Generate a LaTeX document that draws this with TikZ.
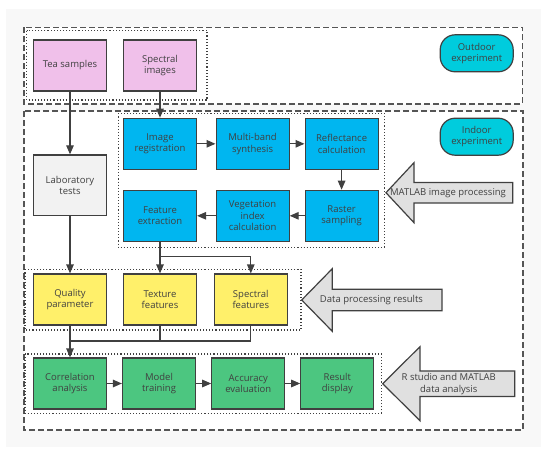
\documentclass[tikz,border=0pt]{standalone}
\usepackage{fontspec}
\setmainfont{Open Sans}
\usetikzlibrary{arrows.meta}
\definecolor{ink}{HTML}{404040}
\definecolor{frame}{HTML}{555555}
\definecolor{page}{HTML}{F8F8F8}
\definecolor{pinkfill}{HTML}{F0C0EA}
\definecolor{bluefill}{HTML}{00B6F0}
\definecolor{cyanfill}{HTML}{00CCDD}
\definecolor{yellowfill}{HTML}{FFF06A}
\definecolor{greenfill}{HTML}{4CC680}
\definecolor{labfill}{HTML}{F2F2F2}
\definecolor{pointerfill}{HTML}{E0E0E0}
\begin{document}
\begin{tikzpicture}[x=1pt,y=-1pt,
  every node/.style={font=\fontsize{9.5}{11.5}\selectfont,text=ink,align=center},
  box/.style={draw=ink,line width=1.2pt,minimum width=73pt,minimum height=51pt,inner sep=1pt},
  tag/.style={draw=ink,line width=1.2pt,fill=cyanfill,rounded corners=15pt,minimum width=73pt,minimum height=37pt},
  stage/.style={draw=frame,line width=1.3pt,dash pattern=on 6pt off 3pt,fill=white},
  group/.style={draw=ink,line width=1.1pt,dash pattern=on 1.1pt off 2pt},
  arr/.style={draw=ink,line width=1.2pt,-{Triangle[length=9pt,width=7.5pt]}},
  link/.style={draw=ink,line width=1.2pt},
  pointer/.style={draw=ink,line width=1.2pt,fill=pointerfill,line join=miter}]
\newcommand{\Pointer}[5]{
\draw[pointer](#1)--++(#2,-#3)--++(0,{#3-#4})--++({#5-#2},0)--++(0,{2*#4})--++({#2-#5},0)--++(0,{#3-#4})--cycle;}
\useasboundingbox(0,0)rectangle(550,455);
\fill[page](6,9)rectangle(541,447);
\draw[stage](24,27.3)rectangle(522.7,104);
\draw[stage](24,111)rectangle(523,430);
\draw[group](26.7,30.7)rectangle(207,100);
\draw[group](118.3,113.3)rectangle(384.3,247.3);
\draw[group](25,269.3)rectangle(301,330);
\draw[group](25,354)rectangle(381.3,413.3);
\node[tag](outdoor) at(476.7,53.3){Outdoor\\experiment};
\node[tag](indoor) at(476.7,136.7){Indoor\\experiment};
\node[box,fill=pinkfill](tea) at(70,65.5){Tea samples};
\node[box,fill=pinkfill](spec) at(160,65.5){Spectral\\images};
\node[box,fill=labfill,minimum height=60.7pt](lab) at(70,185.3){Laboratory\\tests};
\node[box,fill=bluefill](reg) at(160,143.8){Image\\registration};
\node[box,fill=bluefill](band) at(252.6,143.8){Multi-band\\synthesis};
\node[box,fill=bluefill](refl) at(341.6,143.8){Reflectance\\calculation};
\node[box,fill=bluefill](rast) at(341.6,215.8){Raster\\sampling};
\node[box,fill=bluefill](vege) at(252.6,215.8){Vegetation\\index\\calculation};
\node[box,fill=bluefill](feat) at(160,215.8){Feature\\extraction};
\node[box,fill=yellowfill](qual) at(70,299.5){Quality\\parameter};
\node[box,fill=yellowfill](texf) at(160,299.5){Texture\\features};
\node[box,fill=yellowfill](specf) at(250.8,299.5){Spectral\\features};
\node[box,fill=greenfill](corr) at(70,383.5){Correlation\\analysis};
\node[box,fill=greenfill](model) at(159,383.5){Model\\training};
\node[box,fill=greenfill](accu) at(248.3,383.5){Accuracy\\evaluation};
\node[box,fill=greenfill](result) at(337.3,383.5){Result\\display};
\coordinate(split) at(160,256.7);
\coordinate(merge) at(70,341);
\draw[arr](tea)--(lab);
\draw[arr](lab)--(qual);
\draw[arr](spec)--(reg);
\draw[arr](reg)--(band);
\draw[arr](band)--(refl);
\draw[arr](refl)--(rast);
\draw[arr](rast)--(vege);
\draw[arr](vege)--(feat);
\draw[arr](feat)--(texf);
\draw[arr](split)-|(specf);
\draw[arr](qual)--(corr);
\draw[link](texf.south)|-(merge);
\draw[link](specf.south)|-(merge);
\draw[arr](corr)--(model);
\draw[arr](model)--(accu);
\draw[arr](accu)--(result);
\Pointer{386,192.7}{28}{30}{10.3}{126.7}
\Pointer{301.7,300}{30.6}{31.3}{10.8}{140.3}
\Pointer{382.7,383.7}{37.3}{37}{12.8}{132}
\node(matlab) at(448,193){MATLAB image processing};
\node(dataproc) at(371.5,300.5){Data processing results};
\node(rstudio) at(448.8,384){R studio and MATLAB\\data analysis};
\end{tikzpicture}
\end{document}
